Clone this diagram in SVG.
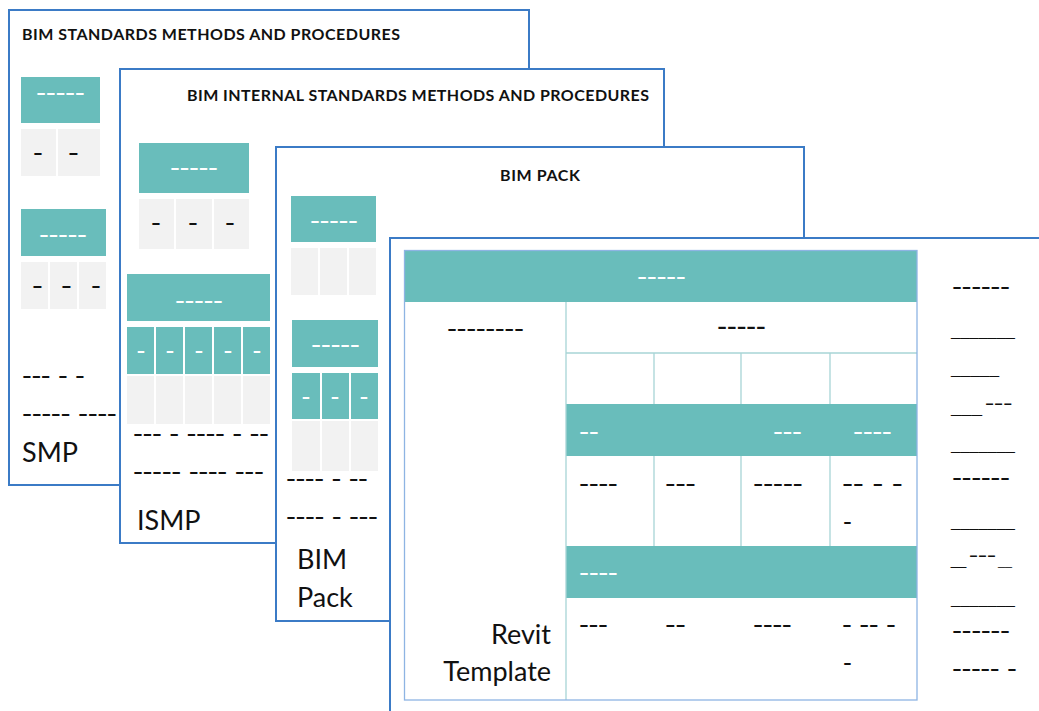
<svg xmlns="http://www.w3.org/2000/svg" width="1039" height="711" viewBox="0 0 1039 711">
<style>
.panel{fill:#fff;stroke:#3B7BC6;stroke-width:2}
.teal{fill:#69BDBB}
.gray{fill:#F2F2F2}
.dw{font-family:'Liberation Sans',Arial,sans-serif;font-weight:bold;font-size:16px;fill:#fff}
.db{font-family:'Liberation Sans',Arial,sans-serif;font-weight:bold;font-size:16px;fill:#111}
.us{font-family:'Liberation Sans',Arial,sans-serif;font-weight:bold;font-size:20px;fill:#111}
.sup{font-size:13px}
.title{font-family:Lato,'Liberation Sans',sans-serif;font-weight:bold;font-size:16px;fill:#111}
.big{font-family:Lato,'Liberation Sans',sans-serif;font-size:27px;fill:#111}
.tb{fill:none;stroke:#8EB4E3;stroke-width:1.3}
.dv{stroke:#A7D4D6;stroke-width:1.3}
</style>

<g id="smp">
<rect class="panel" x="9" y="10" width="520" height="475"/>
<text class="title" x="22" y="40" textLength="378">BIM STANDARDS METHODS AND PROCEDURES</text>
<rect class="teal" x="21" y="77" width="79" height="46"/>
<text class="dw" x="36.3" y="98.2" textLength="48.4" lengthAdjust="spacingAndGlyphs">-----</text>
<rect class="gray" x="21" y="129" width="35" height="47"/>
<rect class="gray" x="58" y="129" width="42" height="47"/>
<text class="db" x="33.3" y="158.2" textLength="9.4" lengthAdjust="spacingAndGlyphs">-</text>
<text class="db" x="68.3" y="158.2" textLength="10.4" lengthAdjust="spacingAndGlyphs">-</text>
<rect class="teal" x="21" y="209" width="85" height="47"/>
<text class="dw" x="39.3" y="240.2" textLength="47.4" lengthAdjust="spacingAndGlyphs">-----</text>
<rect class="gray" x="21" y="262" width="27" height="47"/>
<rect class="gray" x="50" y="262" width="27" height="47"/>
<rect class="gray" x="79" y="262" width="27" height="47"/>
<text class="db" x="32.3" y="291.2" textLength="10.4" lengthAdjust="spacingAndGlyphs">-</text>
<text class="db" x="61.3" y="291.2" textLength="10.4" lengthAdjust="spacingAndGlyphs">-</text>
<text class="db" x="91.3" y="291.2" textLength="9.4" lengthAdjust="spacingAndGlyphs">-</text>
<text class="db" x="22.3" y="381.2" textLength="62.4" lengthAdjust="spacingAndGlyphs">--- - -</text>
<text class="db" x="22.3" y="419.2" textLength="94.4" lengthAdjust="spacingAndGlyphs">----- ----</text>
<text class="big" x="22" y="462">SMP</text>
</g>

<g id="ismp">
<rect class="panel" x="120" y="69" width="544" height="474"/>
<text class="title" x="187" y="101" textLength="462">BIM INTERNAL STANDARDS METHODS AND PROCEDURES</text>
<rect class="teal" x="139" y="143" width="110" height="50"/>
<text class="dw" x="170.3" y="173.2" textLength="47.4" lengthAdjust="spacingAndGlyphs">-----</text>
<rect class="gray" x="139" y="199" width="35" height="50"/>
<rect class="gray" x="176" y="199" width="36" height="50"/>
<rect class="gray" x="214" y="199" width="35" height="50"/>
<text class="db" x="151.3" y="228.2" textLength="9.4" lengthAdjust="spacingAndGlyphs">-</text>
<text class="db" x="188.3" y="228.2" textLength="9.4" lengthAdjust="spacingAndGlyphs">-</text>
<text class="db" x="225.3" y="228.2" textLength="9.4" lengthAdjust="spacingAndGlyphs">-</text>
<rect class="teal" x="127" y="274" width="143" height="47"/>
<text class="dw" x="175.3" y="306.2" textLength="47.4" lengthAdjust="spacingAndGlyphs">-----</text>
<rect class="teal" x="127" y="327" width="27" height="47"/>
<rect class="teal" x="156" y="327" width="27" height="47"/>
<rect class="teal" x="185" y="327" width="27" height="47"/>
<rect class="teal" x="214" y="327" width="27" height="47"/>
<rect class="teal" x="243" y="327" width="27" height="47"/>
<text class="dw" x="136.8" y="356.2" textLength="8.4" lengthAdjust="spacingAndGlyphs">-</text>
<text class="dw" x="165.8" y="356.2" textLength="8.4" lengthAdjust="spacingAndGlyphs">-</text>
<text class="dw" x="194.8" y="356.2" textLength="8.4" lengthAdjust="spacingAndGlyphs">-</text>
<text class="dw" x="223.8" y="356.2" textLength="8.4" lengthAdjust="spacingAndGlyphs">-</text>
<text class="dw" x="252.8" y="356.2" textLength="8.4" lengthAdjust="spacingAndGlyphs">-</text>
<rect class="gray" x="127" y="376" width="27" height="48"/>
<rect class="gray" x="156" y="376" width="27" height="48"/>
<rect class="gray" x="185" y="376" width="27" height="48"/>
<rect class="gray" x="214" y="376" width="27" height="48"/>
<rect class="gray" x="243" y="376" width="27" height="48"/>
<text class="db" x="133.3" y="439.2" textLength="135.4" lengthAdjust="spacingAndGlyphs">--- - ---- - --</text>
<text class="db" x="133.3" y="477.2" textLength="130.4" lengthAdjust="spacingAndGlyphs">----- ---- ---</text>
<text class="big" x="137" y="530">ISMP</text>
</g>

<g id="bim-pack">
<rect class="panel" x="276" y="147" width="528" height="474"/>
<text class="title" x="500" y="181" textLength="80">BIM PACK</text>
<rect class="teal" x="291" y="196" width="85" height="46"/>
<text class="dw" x="310.3" y="226.2" textLength="47.4" lengthAdjust="spacingAndGlyphs">-----</text>
<rect class="gray" x="291" y="248" width="27" height="47"/>
<rect class="gray" x="320" y="248" width="27" height="47"/>
<rect class="gray" x="349" y="248" width="27" height="47"/>
<rect class="teal" x="292" y="320" width="86" height="47"/>
<text class="dw" x="311.3" y="350.2" textLength="48.4" lengthAdjust="spacingAndGlyphs">-----</text>
<rect class="teal" x="292" y="373" width="28" height="46"/>
<rect class="teal" x="322" y="373" width="27" height="46"/>
<rect class="teal" x="351" y="373" width="27" height="46"/>
<text class="dw" x="301.8" y="402.2" textLength="8.4" lengthAdjust="spacingAndGlyphs">-</text>
<text class="dw" x="330.8" y="402.2" textLength="8.4" lengthAdjust="spacingAndGlyphs">-</text>
<text class="dw" x="359.8" y="402.2" textLength="8.4" lengthAdjust="spacingAndGlyphs">-</text>
<rect class="gray" x="292" y="421" width="28" height="50"/>
<rect class="gray" x="322" y="421" width="27" height="50"/>
<rect class="gray" x="351" y="421" width="27" height="50"/>
<text class="db" x="286.3" y="484.2" textLength="81.4" lengthAdjust="spacingAndGlyphs">---- - --</text>
<text class="db" x="286.3" y="522.2" textLength="91.4" lengthAdjust="spacingAndGlyphs">---- - ---</text>
<text class="big" x="297" y="569">BIM</text>
<text class="big" x="297" y="607">Pack</text>
</g>

<g id="revit-template">
<rect class="panel" x="390" y="238" width="700" height="500"/>
<rect x="404.5" y="250.5" width="512.5" height="449.5" fill="#fff"/>
<rect class="teal" x="404.5" y="250.5" width="512.5" height="51.5"/>
<rect class="teal" x="566" y="404" width="351" height="52"/>
<rect class="teal" x="566" y="546" width="351" height="52"/>
<line class="dv" x1="566" y1="302" x2="566" y2="700"/>
<line class="dv" x1="566" y1="353" x2="917" y2="353"/>
<line class="dv" x1="654" y1="353" x2="654" y2="404"/>
<line class="dv" x1="741" y1="353" x2="741" y2="404"/>
<line class="dv" x1="830" y1="353" x2="830" y2="404"/>
<line class="dv" x1="654" y1="456" x2="654" y2="546"/>
<line class="dv" x1="741" y1="456" x2="741" y2="546"/>
<line class="dv" x1="830" y1="456" x2="830" y2="546"/>
<rect class="tb" x="404.5" y="250.5" width="512.5" height="449.5"/>
<text class="dw" x="637.3" y="282.2" textLength="48.4" lengthAdjust="spacingAndGlyphs">-----</text>
<text class="db" x="447.3" y="334.2" textLength="76.4" lengthAdjust="spacingAndGlyphs">--------</text>
<text class="db" x="717.3" y="333.2" textLength="48.4" lengthAdjust="spacingAndGlyphs" style="font-size:18px">-----</text>
<text class="dw" x="579.3" y="437.2" textLength="19.4" lengthAdjust="spacingAndGlyphs">--</text>
<text class="dw" x="773.3" y="437.2" textLength="28.4" lengthAdjust="spacingAndGlyphs">---</text>
<text class="dw" x="853.3" y="437.2" textLength="38.4" lengthAdjust="spacingAndGlyphs">----</text>
<text class="db" x="579.3" y="489.2" textLength="38.4" lengthAdjust="spacingAndGlyphs">----</text>
<text class="db" x="665.3" y="489.2" textLength="30.4" lengthAdjust="spacingAndGlyphs">---</text>
<text class="db" x="753.3" y="489.2" textLength="49.4" lengthAdjust="spacingAndGlyphs">-----</text>
<text class="db" x="842.3" y="489.2" textLength="60.4" lengthAdjust="spacingAndGlyphs">-- - -</text>
<text class="db" x="843.3" y="527.2" textLength="8.4" lengthAdjust="spacingAndGlyphs">-</text>
<text class="dw" x="579.3" y="578.2" textLength="38.4" lengthAdjust="spacingAndGlyphs">----</text>
<text class="db" x="579.3" y="630.2" textLength="28.4" lengthAdjust="spacingAndGlyphs">---</text>
<text class="db" x="665.3" y="630.2" textLength="20.4" lengthAdjust="spacingAndGlyphs">--</text>
<text class="db" x="753.3" y="630.2" textLength="38.4" lengthAdjust="spacingAndGlyphs">----</text>
<text class="db" x="842.3" y="630.2" textLength="53.4" lengthAdjust="spacingAndGlyphs">- -- -</text>
<text class="db" x="843.3" y="668.2" textLength="8.4" lengthAdjust="spacingAndGlyphs">-</text>
<text class="big" x="551" y="644" text-anchor="end">Revit</text>
<text class="big" x="551" y="681" text-anchor="end">Template</text>
<text class="db" x="952.3" y="292.2" textLength="57.4" lengthAdjust="spacingAndGlyphs">------</text>
<text class="us" x="951" y="335.6" textLength="64" lengthAdjust="spacingAndGlyphs">_______</text>
<text class="us" x="951" y="373.6" textLength="48" lengthAdjust="spacingAndGlyphs">_____</text>
<text class="us" x="951" y="412.6" textLength="31" lengthAdjust="spacingAndGlyphs">___</text>
<text class="db sup" x="985" y="408.2" textLength="27.4" lengthAdjust="spacingAndGlyphs">---</text>
<text class="us" x="951" y="449.6" textLength="64" lengthAdjust="spacingAndGlyphs">_______</text>
<text class="db" x="952.3" y="483.2" textLength="57.4" lengthAdjust="spacingAndGlyphs">------</text>
<text class="us" x="951" y="526.6" textLength="64" lengthAdjust="spacingAndGlyphs">_______</text>
<text class="us" x="951" y="566" textLength="15" lengthAdjust="spacingAndGlyphs" style="font-size:14px;stroke:#111;stroke-width:0.6">__</text>
<text class="db sup" x="969" y="559.5" textLength="27" lengthAdjust="spacingAndGlyphs">---</text>
<text class="us" x="998" y="564.6" textLength="14" lengthAdjust="spacingAndGlyphs">__</text>
<text class="us" x="951" y="603.6" textLength="64" lengthAdjust="spacingAndGlyphs">_______</text>
<text class="db" x="952.3" y="636.2" textLength="57.4" lengthAdjust="spacingAndGlyphs">------</text>
<text class="db" x="952.3" y="674.2" textLength="64.4" lengthAdjust="spacingAndGlyphs">----- -</text>
</g>
</svg>
